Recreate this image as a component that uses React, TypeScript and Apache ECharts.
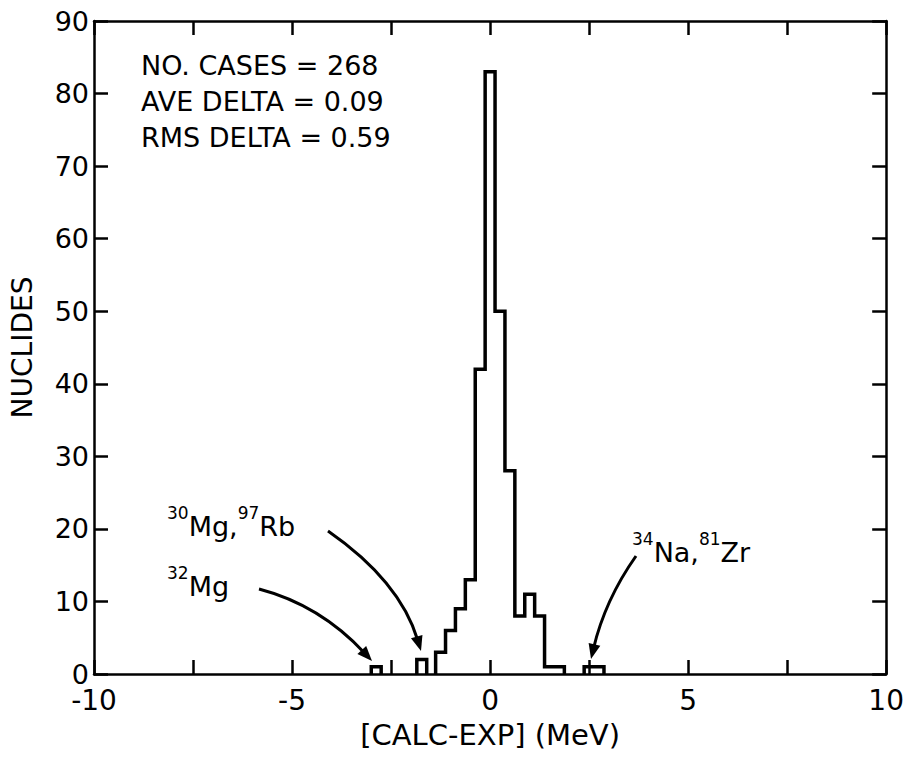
import React, { useEffect, useRef } from 'react';
import * as echarts from 'echarts';

// Histogram bins: left edge (MeV), common width, and number of nuclides
const binStarts = [-3.0, -1.85, -1.375, -1.125, -0.875, -0.625, -0.375, -0.125, 0.125, 0.375, 0.625, 0.875, 1.125, 1.375, 1.625, 2.375, 2.625];
const binWidth = 0.25;
const counts = [1, 2, 3, 6, 9, 13, 42, 83, 50, 28, 8, 11, 8, 1, 1, 1, 1];

const statsLines = ['NO. CASES = 268', 'AVE DELTA = 0.09', 'RMS DELTA = 0.59'];

const FONT = '"DejaVu Sans", "Liberation Sans", sans-serif';

function buildOutlines(): number[][][] {
  const clusters: number[][][] = [];
  let cur: number[][] | null = null;
  let prevEnd = NaN;
  binStarts.forEach((s, i) => {
    const e = s + binWidth;
    if (!cur || Math.abs(s - prevEnd) > 1e-6) {
      if (cur) {
        cur.push([prevEnd, 0]);
        clusters.push(cur);
      }
      cur = [[s, 0]];
    }
    cur.push([s, counts[i]], [e, counts[i]]);
    prevEnd = e;
  });
  if (cur) {
    (cur as number[][]).push([prevEnd, 0]);
    clusters.push(cur);
  }
  return clusters;
}

function arrow(x1: number, y1: number, cx: number, cy: number, x2: number, y2: number) {
  const dx = x2 - cx;
  const dy = y2 - cy;
  const len = Math.sqrt(dx * dx + dy * dy);
  const ux = dx / len;
  const uy = dy / len;
  const L = 15;
  const W = 6;
  const bx = x2 - ux * L;
  const by = y2 - uy * L;
  return [
    {
      type: 'bezierCurve',
      shape: { x1, y1, x2: bx + ux * 4, y2: by + uy * 4, cpx1: cx, cpy1: cy },
      style: { stroke: '#000', lineWidth: 3, fill: 'none' },
      z: 10,
    },
    {
      type: 'polygon',
      shape: {
        points: [
          [x2, y2],
          [bx - uy * W, by + ux * W],
          [bx + uy * W, by - ux * W],
        ],
      },
      style: { fill: '#000' },
      z: 10,
    },
  ];
}

const rich = {
  s: { fontSize: 17, fontFamily: FONT, fill: '#000', color: '#000', verticalAlign: 'top' },
  m: { fontSize: 27, fontFamily: FONT, fill: '#000', color: '#000', lineHeight: 36, verticalAlign: 'bottom' },
};

export default function App() {
  const ref = useRef<HTMLDivElement>(null);
  useEffect(() => {
    if (!ref.current) return;
    const chart = echarts.init(ref.current, undefined, { renderer: 'svg' });
    const outlines = buildOutlines();
    const axisLine = { show: true, onZero: false, lineStyle: { color: '#000', width: 2.5 } };
    const axisTick = { show: true, inside: true, length: 14, lineStyle: { color: '#000', width: 2.5 } };
    const option: any = {
      animation: false,
      backgroundColor: '#fff',
      grid: { left: 93, right: 17, top: 21, bottom: 88, containLabel: false },
      xAxis: [
        {
          type: 'value',
          position: 'bottom',
          min: -10,
          max: 10,
          interval: 2.5,
          axisLine,
          axisTick,
          splitLine: { show: false },
          axisLabel: {
            color: '#000',
            fontSize: 28,
            lineHeight: 22,
            fontFamily: FONT,
            margin: 15,
            formatter: (v: number) => (v % 5 === 0 ? String(v) : ''),
          },
          name: '[CALC-EXP] (MeV)',
          nameLocation: 'middle',
          nameGap: 46,
          nameTextStyle: { color: '#000', fontSize: 29, fontFamily: FONT },
        },
        {
          type: 'value',
          position: 'top',
          min: -10,
          max: 10,
          interval: 2.5,
          axisLine,
          axisTick,
          splitLine: { show: false },
          axisLabel: { show: false },
        },
      ],
      yAxis: [
        {
          type: 'value',
          position: 'left',
          min: 0,
          max: 90,
          interval: 10,
          axisLine,
          axisTick,
          splitLine: { show: false },
          axisLabel: { color: '#000', fontSize: 27, lineHeight: 20, fontFamily: FONT, margin: 5 },
          name: 'NUCLIDES',
          nameLocation: 'middle',
          nameGap: 58,
          nameTextStyle: { color: '#000', fontSize: 28, fontFamily: FONT },
        },
        {
          type: 'value',
          position: 'right',
          min: 0,
          max: 90,
          interval: 10,
          axisLine,
          axisTick,
          splitLine: { show: false },
          axisLabel: { show: false },
        },
      ],
      series: outlines.map((pts) => ({
        type: 'line',
        xAxisIndex: 0,
        yAxisIndex: 0,
        data: pts,
        symbol: 'none',
        showSymbol: false,
        silent: true,
        z: 5,
        lineStyle: { color: '#000', width: 3.5, join: 'miter' },
      })),
      graphic: [
        ...statsLines.map((t, i) => ({
          type: 'text',
          x: 141,
          y: 65 + i * 36,
          z: 10,
          style: {
            text: t,
            fill: '#000',
            fontSize: 27,
            fontFamily: FONT,
            textAlign: 'left',
            textVerticalAlign: 'middle',
          },
        })),
        {
          type: 'text',
          x: 167,
          y: 504,
          z: 10,
          style: { text: '{s|30}{m|Mg,}{s|97}{m|Rb}', rich, fill: '#000', textAlign: 'left', textVerticalAlign: 'top' },
        },
        {
          type: 'text',
          x: 167,
          y: 564,
          z: 10,
          style: { text: '{s|32}{m|Mg}', rich, fill: '#000', textAlign: 'left', textVerticalAlign: 'top' },
        },
        {
          type: 'text',
          x: 632,
          y: 530,
          z: 10,
          style: { text: '{s|34}{m|Na,}{s|81}{m|Zr}', rich, fill: '#000', textAlign: 'left', textVerticalAlign: 'top' },
        },
        ...arrow(259, 589, 320, 605, 372, 661),
        ...arrow(328, 531, 400, 581, 421, 651),
        ...arrow(636, 556, 605, 600, 591, 659),
      ],
    };
    chart.setOption(option);
    return () => chart.dispose();
  }, []);
  return (
    <div
      ref={ref}
      style={{ position: 'absolute', left: 0, top: 0, width: 907, height: 762, background: '#fff' }}
    />
  );
}
